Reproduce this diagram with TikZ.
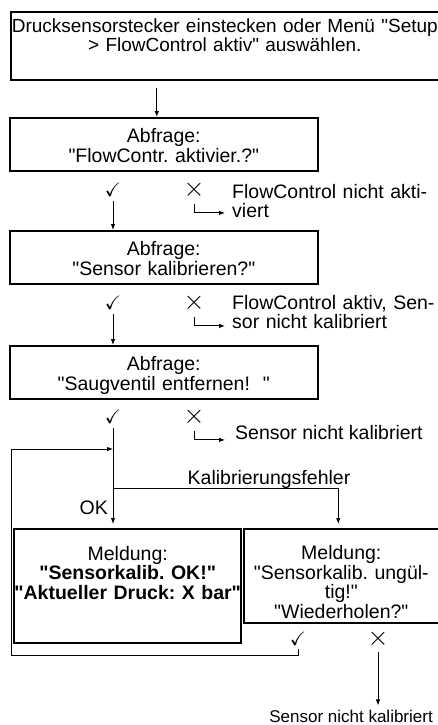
\documentclass[tikz,border=0pt]{standalone}
\usepackage{fontspec}
\setmainfont{Liberation Sans}[Ligatures=TeXOff]
\usepackage{amssymb}
\usetikzlibrary{arrows.meta}
\frenchspacing

\begin{document}
\begin{tikzpicture}[x=1pt, y=-1pt,
  font=\fontsize{19.5}{19.5}\selectfont,
  box/.style={draw, line width=1.6pt, inner sep=0pt, anchor=north west, align=center},
  arr/.style={-{Latex[length=6pt,width=4.5pt]}, line width=0.9pt},
  sym/.style={inner sep=0.5pt},
  note/.style={anchor=base west, inner sep=0pt, align=left}]
\useasboundingbox (0,0) rectangle (437,725);

\node[box, text width=428pt, text height=21pt, text depth=47pt, font=\fontsize{19}{19}\selectfont] (setup) at (10,11) {Drucksensorstecker einstecken oder Menü "Setup\\> FlowControl aktiv" auswählen.};

\foreach \y/\t/\n in {117/FlowContr. aktivier.?/q1, 230/Sensor kalibrieren?/q2, 345/Saugventil entfernen!~~/q3}
  \node[box, text width=308pt, text height=25pt, text depth=28pt] (\n) at (9,\y) {Abfrage:\\"\t"};

\foreach \y/\i in {190/1, 303/2, 417/3} {
  \node[sym] (yes\i) at (113,\y) {$\checkmark$};
  \node[sym, scale=1.3] (no\i) at (194,\y) {$\times$};
}
\node[sym] (yes4) at (298,639) {$\checkmark$};
\node[sym, scale=1.3] (no4) at (378,639) {$\times$};

\node[note, text width=205pt] (nact) at (232,198) {FlowControl nicht akti-\\viert};
\node[note, text width=205pt] (ncal) at (232,309) {FlowControl aktiv, Sen-\\sor nicht kalibriert};
\node[note] (nfail) at (235,439) {Sensor nicht kalibriert};

\node[box, line width=2.4pt, text width=227pt, text height=31pt, text depth=83pt] (okmsg) at (13,528) {Meldung:\\\textbf{"Sensorkalib. OK!"}\\\textbf{"Aktueller Druck: X bar"}};
\node[box, text width=195pt, text height=31pt, text depth=63pt] (failmsg) at (243,528) {Meldung:\\"Sensorkalib. ungül-\\tig!"\\"Wiederholen?"};

\node[anchor=base] (kf) at (269,484) {Kalibrierungsfehler};
\node[anchor=base east, inner sep=0pt] (okl) at (108,514) {OK};
\node[anchor=base east, inner sep=0pt, font=\fontsize{17}{17}\selectfont] (nend) at (433,722) {Sensor nicht kalibriert};

\coordinate (rejoin) at (113,449);
\coordinate (fork) at (113,488);
\coordinate (back) at (11,655);

\draw[arr] ([xshift=-7pt]q1.north) ++(0,-29) -- ([xshift=-7pt]q1.north);
\foreach \i/\j in {1/q2, 2/q3}
  \draw[arr] ([yshift=-4pt]yes\i.south) -- (yes\i.south |- \j.north);
\foreach \i in {1,2,3}
  \draw[arr] ([yshift=-4pt]no\i.south) -- ++(0,9) -- ++(31,0);
\draw[arr, shorten >=4pt] ([yshift=-4pt]yes3.south) -- (yes3.south |- okmsg.north);
\draw[arr, shorten >=4pt] (fork) -| ([xshift=-3pt]failmsg.north);
\draw[arr] ([yshift=-3pt]yes4.south) |- (back) |- (rejoin);
\draw[arr, shorten >=4pt] ([yshift=-3pt]no4.south) -- (no4.south |- nend.north);
\end{tikzpicture}
\end{document}
